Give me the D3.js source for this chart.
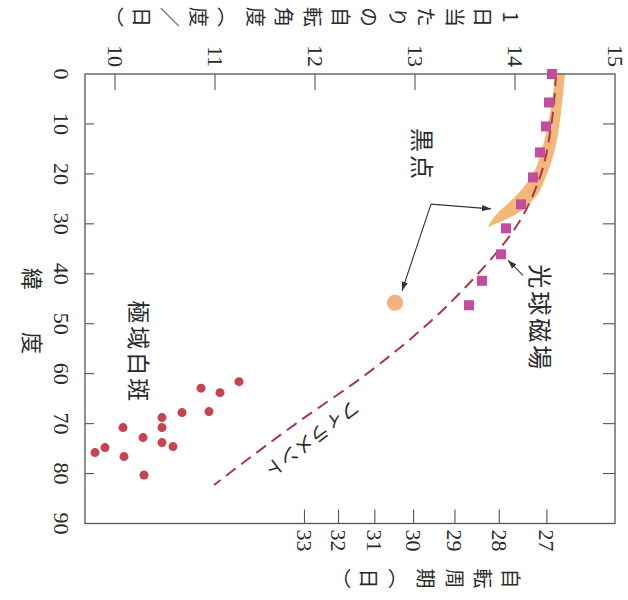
<!DOCTYPE html>
<html><head><meta charset="utf-8">
<script src="https://cdn.jsdelivr.net/npm/d3@7"></script>
<style>
html,body{margin:0;padding:0;background:#fff;}
svg{display:block;}
</style></head>
<body>
<svg id="chart" width="628" height="600"></svg>
<script>
// Axis ticks
const rateTicks = [10, 11, 12, 13, 14, 15];           // rotation rate (deg/day)
const latTicks = [0, 10, 20, 30, 40, 50, 60, 70, 80, 90];
const periodTicks = [27, 28, 29, 30, 31, 32, 33];     // rotation period (days)

// Sunspot band: latitude with lower / upper rotation rate
const spotLat = [0, 5, 10, 15, 20, 25, 28, 30.5];
const spotLo  = [14.40, 14.375, 14.33, 14.27, 14.18, 13.98, 13.82, 13.73];
const spotHi  = [14.50, 14.475, 14.445, 14.40, 14.32, 14.19, 14.02, 13.75];
// High-latitude sunspot
const spotHighLat = [45.8];
const spotHighRate = [12.80];

// Photospheric magnetic field
const magLat  = [0, 5.7, 10.5, 15.7, 20.7, 26.1, 30.9, 36.1, 41.4, 46.3];
const magRate = [14.37, 14.34, 14.31, 14.25, 14.18, 14.06, 13.91, 13.86, 13.67, 13.54];

// Filaments
const filLat  = [0, 10, 20, 30, 40, 50, 60, 70, 80, 82.3];
const filRate = [14.41, 14.364, 14.26, 14.03, 13.63, 13.13, 12.52, 11.81, 11.14, 10.99];

// Polar faculae
const facLat  = [61.6, 62.9, 63.8, 67.8, 67.6, 68.8, 70.8, 70.8, 72.8, 73.8, 74.6, 74.8, 75.8, 76.6, 80.3];
const facRate = [11.24, 10.86, 11.05, 10.67, 10.94, 10.47, 10.08, 10.47, 10.28, 10.47, 10.58, 9.90, 9.80, 10.09, 10.29];

// Labels
const rateTitle = ["1日当たりの自転角度（度", "／", "日）"];
const periodTitle = "自転周期（日）";
const latTitle = "緯　度";

// synodic period (days) -> sidereal rotation rate (deg/day)
const periodToRate = p => 360 / p + 360 / 365.25;

const svg = d3.select('#chart');
const serif = '"Liberation Serif", "Times New Roman", serif';
const cjk = '"Noto Sans CJK JP", sans-serif';
const ink = '#2a2a2a';

// The chart is laid out with latitude across and rate upward, then turned a quarter clockwise.
const latLen = 449.5, rateLen = 530;
const u = d3.scaleLinear().domain([0, 90]).range([0, latLen]);
const v = d3.scaleLinear().domain([15, 9.7]).range([0, rateLen]);

const g = svg.append('g').attr('transform', 'translate(615,74) rotate(90)');

const defs = svg.append('defs');
defs.append('marker').attr('id', 'arrow')
  .attr('viewBox', '0 0 10 10').attr('refX', 10).attr('refY', 5)
  .attr('markerWidth', 9).attr('markerHeight', 9)
  .attr('markerUnits', 'userSpaceOnUse').attr('orient', 'auto')
  .append('path').attr('d', 'M0,1.5 L10,5 L0,8.5 Z').attr('fill', '#333');

// Sunspot band
const band = spotLat.map((lat, i) => ({lat, lo: spotLo[i], hi: spotHi[i]}));
g.append('path').datum(band)
  .attr('d', d3.area().x(d => u(d.lat)).y0(d => v(d.lo)).y1(d => v(d.hi)).curve(d3.curveMonotoneX))
  .attr('fill', '#f4b679');

// Filament curve
const fil = filLat.map((lat, i) => ({lat, rate: filRate[i]}));
g.append('path').datum(fil)
  .attr('d', d3.line().x(d => u(d.lat)).y(d => v(d.rate)).curve(d3.curveMonotoneX))
  .attr('fill', 'none').attr('stroke', '#a83a48').attr('stroke-width', 2)
  .attr('stroke-dasharray', '12,7');

// Frame
g.append('rect').attr('x', 0).attr('y', 0).attr('width', latLen).attr('height', rateLen)
  .attr('fill', 'none').attr('stroke', '#555').attr('stroke-width', 1.3);

// Rate ticks (inner) and labels
g.selectAll('.rt').data(rateTicks.filter(t => t < 15)).join('line')
  .attr('x1', 0).attr('x2', 16).attr('y1', d => v(d)).attr('y2', d => v(d))
  .attr('stroke', '#555').attr('stroke-width', 1.1);
g.selectAll('.rl').data(rateTicks).join('text')
  .attr('x', -7).attr('y', d => v(d)).attr('text-anchor', 'end').attr('dominant-baseline', 'central')
  .attr('font-family', serif).attr('font-size', 22).attr('fill', ink).text(d => d);

// Latitude ticks on both long edges
const inner = latTicks.filter(t => t > 0 && t < 90);
g.selectAll('.lt1').data(inner).join('line')
  .attr('x1', d => u(d)).attr('x2', d => u(d)).attr('y1', rateLen).attr('y2', rateLen - 9)
  .attr('stroke', '#555').attr('stroke-width', 1.1);
g.selectAll('.lt2').data(inner).join('line')
  .attr('x1', d => u(d)).attr('x2', d => u(d)).attr('y1', 0).attr('y2', 12)
  .attr('stroke', '#555').attr('stroke-width', 1.1);
g.selectAll('.ll').data(latTicks).join('text')
  .attr('x', d => u(d)).attr('y', 554).attr('text-anchor', 'middle').attr('dominant-baseline', 'central')
  .attr('font-family', serif).attr('font-size', 22).attr('fill', ink).text(d => d);

// Period ticks and labels
g.selectAll('.pt').data(periodTicks).join('line')
  .attr('x1', latLen).attr('x2', latLen - 14)
  .attr('y1', d => v(periodToRate(d))).attr('y2', d => v(periodToRate(d)))
  .attr('stroke', '#555').attr('stroke-width', 1.1);
g.selectAll('.pl').data(periodTicks).join('text')
  .attr('x', latLen + 6).attr('y', d => v(periodToRate(d))).attr('dominant-baseline', 'central')
  .attr('font-family', serif).attr('font-size', 22).attr('fill', ink).text(d => d);

// Axis titles (vertical writing)
const vert = 'writing-mode: vertical-rl; text-orientation: upright;';
const rt = g.append('text').attr('x', -57).attr('y', 94).attr('style', vert)
  .attr('font-family', cjk).attr('font-size', 20).attr('letter-spacing', 8.4)
  .attr('fill', ink);
rt.selectAll('tspan').data(rateTitle).join('tspan')
  .attr('style', (d, i) => i === 1 ? 'font-feature-settings: "vert" 0, "vrt2" 0;' : null)
  .text(d => d);
g.append('text').attr('x', latLen + 55).attr('y', 94).attr('style', vert)
  .attr('font-family', cjk).attr('font-size', 20).attr('letter-spacing', 8.4)
  .attr('fill', ink).text(periodTitle);
g.append('text').attr('x', 242).attr('y', 581).attr('text-anchor', 'middle').attr('dominant-baseline', 'central')
  .attr('font-family', cjk).attr('font-size', 22).attr('letter-spacing', 10)
  .attr('fill', ink).text(latTitle);

// Polar faculae
g.selectAll('.fac').data(facLat.map((lat, i) => ({lat, rate: facRate[i]}))).join('circle')
  .attr('cx', d => u(d.lat)).attr('cy', d => v(d.rate)).attr('r', 4.5)
  .attr('fill', '#c8434f');

// High-latitude sunspot
g.selectAll('.sh').data(spotHighLat.map((lat, i) => ({lat, rate: spotHighRate[i]}))).join('circle')
  .attr('cx', d => u(d.lat)).attr('cy', d => v(d.rate)).attr('r', 8)
  .attr('fill', '#f2b27a');

// Photospheric magnetic field
const sq = 10;
g.selectAll('.mag').data(magLat.map((lat, i) => ({lat, rate: magRate[i]}))).join('rect')
  .attr('x', d => u(d.lat) - sq / 2).attr('y', d => v(d.rate) - sq / 2)
  .attr('width', sq).attr('height', sq).attr('fill', '#c04da0');

// Annotations
const pt = (lat, rate) => [u(lat), v(rate)];
const arrowLine = (a, b) => g.append('line')
  .attr('x1', a[0]).attr('y1', a[1]).attr('x2', b[0]).attr('y2', b[1])
  .attr('stroke', '#333').attr('stroke-width', 1.1).attr('marker-end', 'url(#arrow)');
const hub = pt(26.05, 13.16);
arrowLine(hub, pt(27.0, 13.76));
arrowLine(hub, pt(43.4, 12.87));
arrowLine(pt(40.3, 14.08), pt(37.3, 13.93));

const label = (txt, lat, rate, size, ls, angle) => g.append('text')
  .attr('transform', `translate(${u(lat)},${v(rate)}) rotate(${angle || 0})`)
  .attr('text-anchor', 'middle').attr('dominant-baseline', 'central')
  .attr('font-family', cjk).attr('font-size', size).attr('letter-spacing', ls)
  .attr('fill', ink).text(txt);
label('黒点', 16.2, 13.08, 24, 3);
label('光球磁場', 48.9, 14.26, 24, 3);
label('極域白斑', 55.7, 10.25, 23, 3);
label('フィラメント', 73.3, 11.98, 19, 0, 53);
</script>
</body></html>
